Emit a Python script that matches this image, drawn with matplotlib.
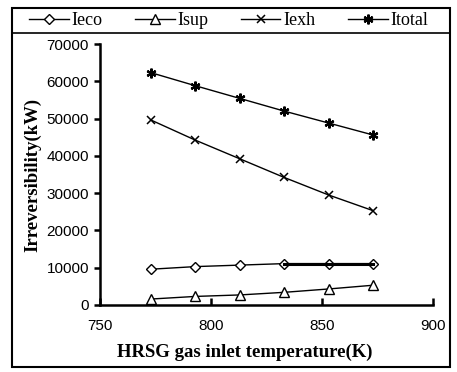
import matplotlib.pyplot as plt
from matplotlib.lines import Line2D
from matplotlib.patches import Rectangle

temp = [773, 793, 813, 833, 853, 873]
ieco = [9600, 10300, 10700, 11100, 11100, 11100]
isup = [1600, 2300, 2700, 3400, 4300, 5300]
iexh = [49600, 44200, 39200, 34200, 29500, 25300]
itotal = [62300, 58800, 55400, 52000, 48800, 45600]

fig = plt.figure(figsize=(4.57, 3.72), dpi=100)
ax = fig.add_axes([100/457, 1-305/372, 333/457, 261/372])

ax.plot(temp, ieco, color='black', lw=1, marker='D', ms=5, mfc='white', mec='black', mew=1, label='Ieco')
ax.plot(temp[3:], ieco[3:], color='black', lw=2.2)
ax.plot(temp, isup, color='black', lw=1, marker='^', ms=7.5, mfc='white', mec='black', mew=1, label='Isup')
ax.plot(temp, iexh, color='black', lw=1, marker='x', ms=6, mew=1.1, label='Iexh')
ax.plot(temp, itotal, color='black', lw=1, marker=(6, 2, 0), ms=7, mew=1.6, label='Itotal')

ax.set_xlim(750, 900)
ax.set_ylim(0, 70000)
ax.set_xticks([750, 800, 850, 900])
ax.set_yticks(range(0, 70001, 10000))
for s in ['top', 'right']:
    ax.spines[s].set_visible(False)
for s in ['left', 'bottom']:
    ax.spines[s].set_linewidth(1.8)
ax.tick_params(axis='y', direction='out', length=4, width=1.8, labelsize=11, pad=4)
ax.tick_params(axis='x', direction='in', length=5, width=1.8, labelsize=11, pad=10)
for lab in ax.get_xticklabels() + ax.get_yticklabels():
    lab.set_family('Liberation Sans')

ax.set_xlabel('HRSG gas inlet temperature(K)', family='Liberation Serif', fontweight='bold', fontsize=13.5)
ax.xaxis.set_label_coords(0.435, -0.15)
ax.set_ylabel('Irreversibility(kW)', family='Liberation Serif', fontweight='bold', fontsize=13.5, labelpad=4)

handles, labels = ax.get_legend_handles_labels()
fig.legend(handles, labels, loc='center', bbox_to_anchor=(0.5, 1-20.5/372), ncol=4, frameon=False,
           prop={'family': 'Liberation Serif', 'size': 13}, handlelength=2.2, handletextpad=0.15,
           columnspacing=1.8, borderaxespad=0)

# outer frame and legend separator
fig.add_artist(Rectangle((12/457, 1-367/372), 438/457, 359/372, transform=fig.transFigure,
                         fill=False, ec='black', lw=1.5))
fig.add_artist(Line2D([12/457, 450/457], [1-33/372, 1-33/372], transform=fig.transFigure,
                      color='black', lw=1.2))

fig.savefig('out.png', dpi=100)
